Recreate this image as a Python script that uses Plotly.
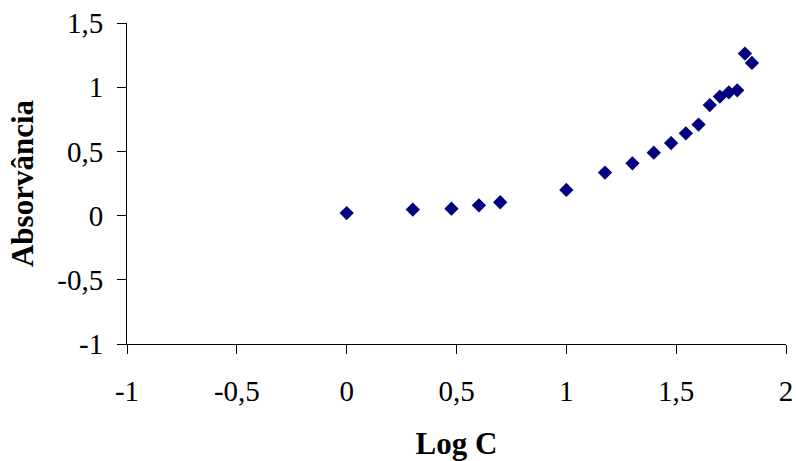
import plotly.graph_objects as go

log_c = [0.0, 0.301, 0.477, 0.602, 0.699, 1.0, 1.176, 1.301, 1.398, 1.477,
         1.544, 1.602, 1.653, 1.699, 1.740, 1.778, 1.813, 1.845]
absorbancia = [0.02, 0.047, 0.054, 0.08, 0.104, 0.20, 0.335, 0.407, 0.49, 0.565,
               0.641, 0.709, 0.861, 0.927, 0.96, 0.976, 1.262, 1.189]

x_ticks = [-1, -0.5, 0, 0.5, 1, 1.5, 2]
x_tick_labels = ["-1", "-0,5", "0", "0,5", "1", "1,5", "2"]
y_ticks = [-1, -0.5, 0, 0.5, 1, 1.5]
y_tick_labels = ["-1", "-0,5", "0", "0,5", "1", "1,5"]

FONT = "Liberation Serif, Times New Roman, serif"
TICK_SIZE = 29
TITLE_SIZE = 31

fig = go.Figure(go.Scatter(
    x=log_c, y=absorbancia, mode="markers",
    marker=dict(symbol="diamond", size=11, color="#000080",
                line=dict(width=0)),
    showlegend=False,
))

fig.update_layout(
    width=796, height=461,
    margin=dict(l=127, r=10, t=23, b=117),
    paper_bgcolor="white", plot_bgcolor="white",
    font=dict(family=FONT, size=TICK_SIZE, color="black"),
    xaxis=dict(
        range=[-1, 2], tickvals=x_ticks, ticktext=x_tick_labels,
        showgrid=False, zeroline=False, showline=True, linecolor="black",
        linewidth=1, ticks="outside", ticklen=9, tickcolor="black",
        ticklabelstandoff=12, ticklabeloverflow="allow",
        tickfont=dict(family=FONT, size=TICK_SIZE, color="black"),
        title=dict(text="<b>Log C</b>", font=dict(family=FONT, size=TITLE_SIZE),
                   standoff=32),
        automargin=False,
    ),
    yaxis=dict(
        range=[-1, 1.5], tickvals=y_ticks, ticktext=y_tick_labels,
        showgrid=False, zeroline=False, showline=True, linecolor="black",
        linewidth=1, ticks="outside", ticklen=9, tickcolor="black",
        ticklabelstandoff=8, ticklabeloverflow="allow",
        tickfont=dict(family=FONT, size=TICK_SIZE, color="black"),
        title=dict(text="<b>Absorvância</b>", font=dict(family=FONT, size=TITLE_SIZE),
                   standoff=14),
        automargin=False,
    ),
)

fig.write_html("out.html", config={"displayModeBar": False},
               post_script="document.body.style.margin='0';")
